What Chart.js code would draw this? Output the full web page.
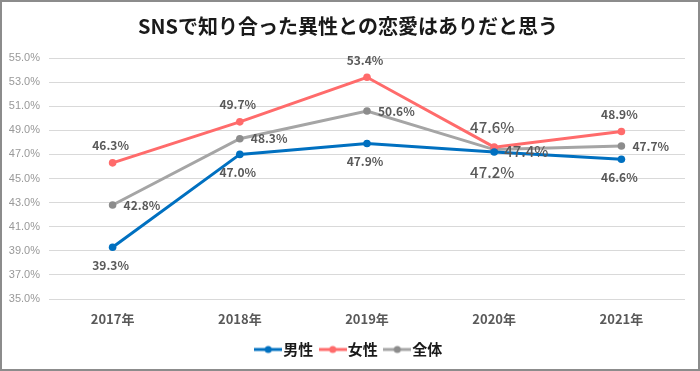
<!DOCTYPE html>
<html>
<head>
<meta charset="utf-8">
<script src="https://cdn.jsdelivr.net/npm/chart.js@4"></script>
<style>
  html, body { margin: 0; padding: 0; background: #fff; }
  #wrap { position: relative; width: 700px; height: 371px; }
</style>
</head>
<body>
<div id="wrap"><canvas id="chart" width="700" height="371"></canvas></div>
<script>
// --- Data ---
const years = ['2017年', '2018年', '2019年', '2020年', '2021年'];
const male = [39.3, 47.0, 47.9, 47.2, 46.6];
const female = [46.3, 49.7, 53.4, 47.6, 48.9];
const total = [42.8, 48.3, 50.6, 47.4, 47.7];
const seriesNames = ['男性', '女性', '全体'];

const FONT = '"Liberation Sans", "Noto Sans CJK JP", sans-serif';
const JP = '"Noto Sans CJK JP", "Liberation Sans", sans-serif';

const colors = ['#0070C0', '#FF6B6B', '#A5A5A5'];
const pointColors = ['#0070C0', '#FF6B6B', '#8C8C8C'];

// label placement per dataset: below / above / right
const labelPos = ['below', 'above', 'right'];

// small legend icon: line with a dot
const makeIcon = (color, dot) => {
    const c = document.createElement('canvas');
    c.width = 28; c.height = 10;
    const g = c.getContext('2d');
    g.strokeStyle = color;
    g.lineWidth = 3;
    g.beginPath(); g.moveTo(0, 5); g.lineTo(28, 5); g.stroke();
    g.fillStyle = dot;
    g.beginPath(); g.arc(14, 5, 3.5, 0, Math.PI * 2); g.fill();
    return c;
};

// draw value labels and title / frame
const extras = {
    id: 'extras',
    afterLayout(chart) {
        // center the legend on the whole canvas, not the padded area
        if (chart.legend) {
            chart.legend.left += 6;
            chart.legend.right += 6;
        }
    },
    afterDatasetsDraw(chart) {
        const ctx = chart.ctx;
        ctx.save();
        chart.data.datasets.forEach((ds, i) => {
            const meta = chart.getDatasetMeta(i);
            meta.data.forEach((pt, j) => {
                const big = j === 3;
                ctx.font = (big ? '500 15px ' : 'bold 12px ') + JP;
                ctx.fillStyle = '#595959';
                const txt = ds.data[j].toFixed(1) + '%';
                const pos = labelPos[i];
                ctx.textBaseline = 'middle';
                if (pos === 'right') {
                    ctx.textAlign = 'left';
                    ctx.fillText(txt, pt.x + (big ? 10 : 11), pt.y + (big ? 2 : 0));
                } else if (pos === 'above') {
                    ctx.textAlign = 'center';
                    ctx.fillText(txt, pt.x - 2, pt.y - (big ? 20 : 17));
                } else {
                    ctx.textAlign = 'center';
                    ctx.fillText(txt, pt.x - 2, pt.y + (big ? 20 : 18));
                }
            });
        });
        ctx.restore();
    },
    afterDraw(chart) {
        const ctx = chart.ctx;
        ctx.save();
        ctx.font = 'bold 20px ' + JP;
        ctx.fillStyle = '#1a1a1a';
        ctx.textAlign = 'center';
        ctx.textBaseline = 'middle';
        ctx.fillText('SNSで知り合った異性との恋愛はありだと思う', 348, 26);
        ctx.strokeStyle = '#8c8c8c';
        ctx.lineWidth = 2;
        ctx.strokeRect(1, 1, 698, 369);
        ctx.restore();
    }
};

const datasets = [male, female, total].map((d, i) => ({
    label: seriesNames[i],
    data: d,
    borderColor: colors[i],
    backgroundColor: pointColors[i],
    pointBackgroundColor: pointColors[i],
    pointBorderWidth: 0,
    borderWidth: 3,
    pointRadius: 3.8,
    pointHoverRadius: 3.8,
    tension: 0
}));

new Chart(document.getElementById('chart'), {
    type: 'line',
    data: { labels: years, datasets: datasets },
    plugins: [extras],
    options: {
        responsive: false,
        animation: false,
        layout: { padding: { top: 58, right: 15, bottom: 4, left: 6 } },
        scales: {
            x: {
                offset: true,
                grid: { display: false, drawTicks: false },
                border: { display: false },
                ticks: {
                    color: '#595959',
                    font: { family: JP, size: 13, weight: 'bold' },
                    padding: 12
                },
                afterFit: (s) => { s.height = 31; }
            },
            y: {
                min: 35,
                max: 55,
                grid: { color: '#d9d9d9', lineWidth: 1, drawTicks: false },
                border: { display: false },
                ticks: {
                    stepSize: 2,
                    color: '#999999',
                    font: { family: FONT, size: 11 },
                    padding: 9,
                    callback: (v) => v.toFixed(1) + '%'
                },
                afterFit: (s) => { s.width = 43; }
            }
        },
        plugins: {
            title: { display: false },
            tooltip: { enabled: false },
            legend: {
                position: 'bottom',
                labels: {
                    color: '#1a1a1a',
                    font: { family: JP, size: 15, weight: 'bold' },
                    usePointStyle: true,
                    padding: 12,
                    generateLabels: (chart) => chart.data.datasets.map((ds, i) => ({
                        text: ds.label,
                        pointStyle: makeIcon(colors[i], pointColors[i]),
                        fontColor: '#1a1a1a',
                        datasetIndex: i,
                        hidden: false,
                        lineWidth: 0
                    }))
                }
            }
        }
    }
});
</script>
</body>
</html>
